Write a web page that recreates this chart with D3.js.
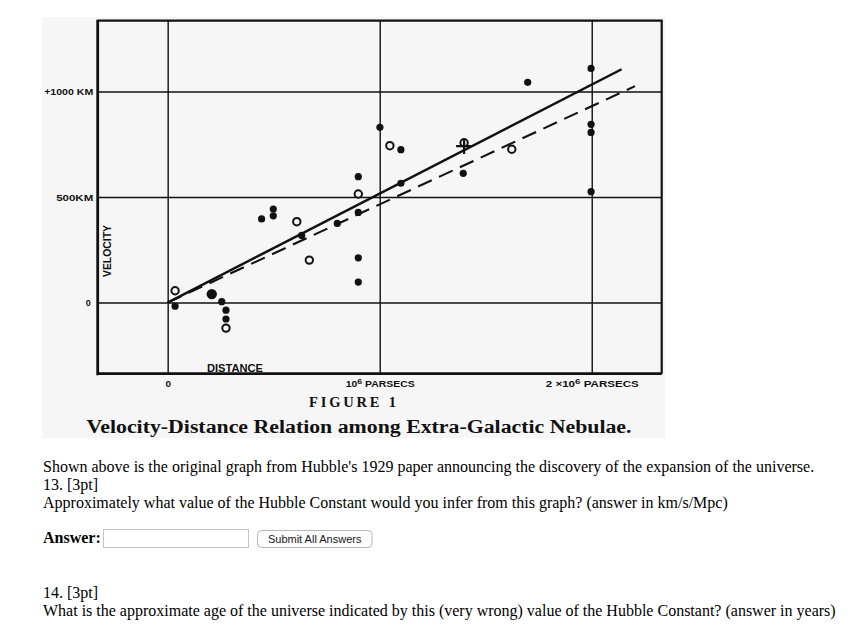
<!DOCTYPE html>
<html>
<head>
<meta charset="utf-8">
<script src="https://cdn.jsdelivr.net/npm/d3@7"></script>
<style>
  html, body { margin: 0; padding: 0; background: #ffffff; }
  svg { display: block; }
</style>
</head>
<body>
<svg id="chart" width="854" height="634"></svg>
<script>
// ---------------- DATA ----------------
// distance in units of 10^6 parsecs, velocity in km/s
const individualDistance = [0.035, 0.255, 0.275, 0.275, 0.443, 0.498, 0.498, 0.632, 0.800,
  0.899, 0.899, 0.899, 0.899, 1.001, 1.100, 1.100, 1.394, 1.698, 1.997, 1.997, 1.997, 1.997];
const individualVelocity = [-17, 4, -36, -78, 396, 443, 411, 318, 375,
  596, 427, 212, 97, 830, 724, 565, 612, 1043, 1109, 844, 806, 525];
const heavyDistance = [0.208];
const heavyVelocity = [40];
const groupDistance = [0.035, 0.275, 0.609, 0.668, 0.899, 1.048, 1.398, 1.623];
const groupVelocity = [56, -121, 383, 201, 514, 743, 757, 726];
const crossDistance = [1.398];
const crossVelocity = [741];
const solidFitDistance = [0, 2.141];
const solidFitVelocity = [0, 1105];
const dashedFitDistance = [0, 2.204];
const dashedFitVelocity = [0, 1025];

const xTicks = [0, 1, 2];
// each label: [prefix, superscript, suffix]
const xTickLabels = [["0", "", ""], ["10", "6", " PARSECS"], ["2 \u00d710", "6", " PARSECS"]];
const yTicks = [0, 500, 1000];
const yTickLabels = ["0", "500KM", "+1000 KM"];

const figureLabel = "FIGURE 1";
const figureTitle = "Velocity-Distance Relation among Extra-Galactic Nebulae.";
const xAxisTitle = "DISTANCE";
const yAxisTitle = "VELOCITY";

const paragraphLines = [
  "Shown above is the original graph from Hubble's 1929 paper announcing the discovery of the expansion of the universe.",
  "13. [3pt]",
  "Approximately what value of the Hubble Constant would you infer from this graph? (answer in km/s/Mpc)"
];
const answerLabel = "Answer:";
const buttonLabel = "Submit All Answers";
const paragraphLines2 = [
  "14. [3pt]",
  "What is the approximate age of the universe indicated by this (very wrong) value of the Hubble Constant? (answer in years)"
];

// ---------------- LAYOUT ----------------
const svg = d3.select("#chart");
const plot = { left: 97.7, right: 661.7, top: 20.7, bottom: 373.7 };
const x = d3.scaleLinear().domain([-0.33, 2.33]).range([plot.left, plot.right]);
const y = d3.scaleLinear().domain([-337, 1335]).range([plot.bottom, plot.top]);
const ink = "#111";
const labelFont = "'Liberation Sans', Arial, sans-serif";

// scanned panel background
svg.append("rect").attr("x", 42).attr("y", 17).attr("width", 623).attr("height", 421)
  .attr("fill", "#f6f6f6");

// grid lines via axes
const gx = svg.append("g").attr("transform", `translate(0,${plot.bottom})`)
  .call(d3.axisBottom(x).tickValues(xTicks).tickSize(-(plot.bottom - plot.top))
    .tickFormat((d, i) => xTickLabels[i].join("")).tickPadding(0));
gx.select(".domain").remove();
gx.selectAll("line").attr("stroke", ink).attr("stroke-width", 1.4);
gx.selectAll("text")
  .attr("y", 13).attr("dy", 0)
  .attr("fill", ink)
  .style("font-family", labelFont)
  .style("font-weight", "bold")
  .style("font-size", "9.5px")
  .each(function(d, i) {
    const w = [5.5, 69, 93][i];
    const t = d3.select(this).text("");
    const parts = xTickLabels[i];
    t.append("tspan").text(parts[0]);
    if (parts[1]) {
      t.append("tspan").attr("dy", -3).style("font-size", "8px").text(parts[1]);
      t.append("tspan").attr("dy", 3).text(parts[2]);
    }
    t.attr("textLength", w).attr("lengthAdjust", "spacingAndGlyphs");
  });

const gy = svg.append("g").attr("transform", `translate(${plot.left},0)`)
  .call(d3.axisLeft(y).tickValues(yTicks).tickSize(-(plot.right - plot.left))
    .tickFormat((d, i) => yTickLabels[i]).tickPadding(0));
gy.select(".domain").remove();
gy.selectAll("line").attr("stroke", ink).attr("stroke-width", 1.4);
gy.selectAll("text")
  .attr("x", -4.5).attr("dy", "0.36em")
  .attr("fill", ink)
  .style("font-family", labelFont)
  .style("font-weight", "bold")
  .style("font-size", "9.5px")
  .each(function(d, i) {
    const w = [5, 37, 49][i];
    d3.select(this).attr("textLength", w).attr("lengthAdjust", "spacingAndGlyphs");
  });
gy.selectAll(".tick").filter(d => d === 0).select("text").attr("x", -7);

// frame
const frame = svg.append("g").attr("stroke", ink).attr("fill", "none");
frame.append("line").attr("x1", plot.left).attr("x2", plot.left).attr("y1", plot.top - 1).attr("y2", plot.bottom + 1.5).attr("stroke-width", 2.8);
frame.append("line").attr("x1", plot.left).attr("x2", plot.right).attr("y1", plot.bottom).attr("y2", plot.bottom).attr("stroke-width", 2.8);
frame.append("line").attr("x1", plot.left).attr("x2", plot.right + 1).attr("y1", plot.top).attr("y2", plot.top).attr("stroke-width", 2.2);
frame.append("line").attr("x1", plot.right).attr("x2", plot.right).attr("y1", plot.top).attr("y2", plot.bottom).attr("stroke-width", 2.2);

// axis titles
svg.append("text")
  .attr("x", 207).attr("y", 371.5)
  .attr("textLength", 56).attr("lengthAdjust", "spacingAndGlyphs")
  .attr("fill", ink)
  .style("font-family", labelFont)
  .style("font-weight", "bold").style("font-size", "11px")
  .text(xAxisTitle);
svg.append("text")
  .attr("transform", "translate(110.5,251) rotate(-90)")
  .attr("text-anchor", "middle")
  .attr("textLength", 52).attr("lengthAdjust", "spacingAndGlyphs")
  .attr("fill", ink)
  .style("font-family", labelFont)
  .style("font-weight", "bold").style("font-size", "11px")
  .text(yAxisTitle);

// fit lines
const line = d3.line().x(d => x(d[0])).y(d => y(d[1]));
svg.append("path").datum(d3.zip(dashedFitDistance, dashedFitVelocity))
  .attr("d", line).attr("fill", "none").attr("stroke", ink)
  .attr("stroke-width", 2.1).attr("stroke-dasharray", "15,8");
svg.append("path").datum(d3.zip(solidFitDistance, solidFitVelocity))
  .attr("d", line).attr("fill", "none").attr("stroke", ink)
  .attr("stroke-width", 2.5);

// individual nebulae (black discs)
svg.append("g").selectAll("circle").data(d3.zip(individualDistance, individualVelocity))
  .join("circle").attr("cx", d => x(d[0])).attr("cy", d => y(d[1]))
  .attr("r", 3.6).attr("fill", ink);
svg.append("g").selectAll("circle").data(d3.zip(heavyDistance, heavyVelocity))
  .join("circle").attr("cx", d => x(d[0])).attr("cy", d => y(d[1]))
  .attr("r", 5.2).attr("fill", ink);

// groups (open circles)
svg.append("g").selectAll("circle").data(d3.zip(groupDistance, groupVelocity))
  .join("circle").attr("cx", d => x(d[0])).attr("cy", d => y(d[1]))
  .attr("r", 3.7).attr("fill", "#f6f6f6").attr("stroke", ink).attr("stroke-width", 2);

// cross
svg.append("g").selectAll("path").data(d3.zip(crossDistance, crossVelocity))
  .join("path")
  .attr("d", d => {
    const cx = x(d[0]), cy = y(d[1]);
    return `M${cx - 8},${cy}H${cx + 7}M${cx},${cy - 6}V${cy + 8}`;
  })
  .attr("stroke", ink).attr("stroke-width", 2.2).attr("fill", "none");

// figure caption
svg.append("text")
  .attr("x", 352.5).attr("y", 406.5).attr("text-anchor", "middle")
  .attr("textLength", 87).attr("lengthAdjust", "spacing")
  .attr("fill", ink)
  .style("font-family", "'Liberation Serif', 'Times New Roman', serif")
  .style("font-weight", "bold")
  .style("font-size", "14.5px")
  .text(figureLabel);
svg.append("text")
  .attr("x", 86.5).attr("y", 432.5)
  .attr("textLength", 545).attr("lengthAdjust", "spacingAndGlyphs")
  .attr("fill", ink)
  .style("font-family", "'Liberation Serif', 'Times New Roman', serif")
  .style("font-weight", "bold")
  .style("font-size", "18.5px")
  .text(figureTitle);

// ---------------- page text below ----------------
const serif = "'Liberation Serif', 'Times New Roman', serif";
const base1 = [471.5, 489.5, 507.5];
paragraphLines.forEach((t, i) => {
  svg.append("text").attr("x", 43).attr("y", base1[i])
    .attr("fill", "#000").style("font-family", serif).style("font-size", "16px").text(t);
});
svg.append("text").attr("x", 43).attr("y", 543.3)
  .attr("fill", "#000").style("font-family", serif).style("font-size", "16px")
  .style("font-weight", "bold").text(answerLabel);
svg.append("rect").attr("x", 103.5).attr("y", 529.5).attr("width", 145).attr("height", 18)
  .attr("fill", "#fff").attr("stroke", "#c4c4c4").attr("stroke-width", 1);
svg.append("rect").attr("x", 257.5).attr("y", 530.5).attr("width", 114.5).attr("height", 17)
  .attr("rx", 4).attr("fill", "#fcfcfc").attr("stroke", "#b8b8b8").attr("stroke-width", 1);
svg.append("text").attr("x", 314.7).attr("y", 542.8).attr("text-anchor", "middle")
  .attr("fill", "#1a1a1a").style("font-family", labelFont)
  .style("font-size", "11px").text(buttonLabel);
const base2 = [598, 616];
paragraphLines2.forEach((t, i) => {
  svg.append("text").attr("x", 43).attr("y", base2[i])
    .attr("fill", "#000").style("font-family", serif).style("font-size", "16px").text(t);
});
</script>
</body>
</html>
